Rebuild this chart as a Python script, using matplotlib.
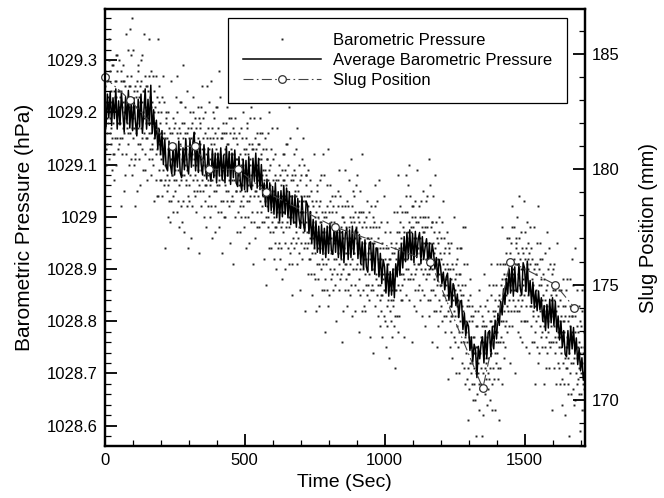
import numpy as np
import matplotlib.pyplot as plt
from matplotlib.ticker import MultipleLocator, FuncFormatter

plt.rcParams["font.family"] = ["Liberation Sans", "DejaVu Sans"]

# barometer readings, one per second from t = 0, coded as 0.01 hPa above 1028.50
raw_blocks = [
    "70 75 67 78 63 72 60 76 69 66 64 73 77 68 70 80 61 84 66 72 78 69 64 74 67 59 72 79 65 62 79 68 74 62 71 57 76 65 73 81 73 60 76 70 65 78 81 68 63 74",
    "71 64 80 74 68 73 65 52 78 76 74 65 71 62 79 72 67 76 55 70 76 66 58 72 75 69 70 85 62 67 68 77 73 64 82 66 71 60 75 86 75 72 66 81 61 70 77 67 58 88",
    "65 71 69 82 60 74 67 62 75 52 61 73 71 66 76 55 74 68 79 64 78 67 73 61 70 56 75 64 72 80 67 76 72 63 81 65 70 59 74 85 69 74 66 77 62 71 59 75 68 65",
    "75 65 57 71 74 68 69 84 61 66 77 68 63 73 66 58 71 78 64 61 72 63 69 60 77 70 65 74 53 68 71 68 62 77 57 66 73 63 54 84 67 54 70 64 59 72 75 62 57 68",
    "57 66 70 61 63 73 54 77 59 65 63 56 72 66 60 65 57 44 70 68 69 60 55 65 58 50 63 70 56 53 67 57 49 63 66 60 61 76 53 58 61 66 58 69 54 63 51 67 60 57",
    "59 68 64 55 73 57 62 51 66 77 70 59 65 53 62 48 67 56 64 72 66 63 57 72 52 61 68 58 49 79 53 65 63 58 68 47 66 60 71 56 57 63 61 74 52 66 59 54 67 44",
    "65 56 62 53 70 63 58 67 46 61 65 52 68 62 57 70 73 60 55 66 61 66 58 69 54 63 51 67 60 57 62 55 71 65 59 64 56 43 69 67 55 64 68 59 61 71 52 75 57 63",
    "69 60 55 65 58 50 63 70 56 53 66 56 48 62 65 59 60 75 52 57 58 67 63 54 72 56 61 50 65 76 52 64 62 57 67 46 65 59 70 55 69 58 64 52 61 47 66 55 63 71",
    "65 62 56 71 51 60 67 57 48 78 56 62 60 73 51 65 58 53 66 43 60 65 57 68 53 62 50 66 59 56 63 50 66 60 55 68 71 58 53 64 64 55 61 52 69 62 57 66 45 60",
    "60 53 69 63 57 62 54 41 67 65 53 62 66 57 59 69 50 73 55 61 65 55 47 61 64 58 59 74 51 56 66 57 52 62 55 47 60 67 53 50 56 65 61 52 70 54 59 48 63 74",
    "50 62 60 55 65 44 63 57 68 53 67 56 62 50 59 45 64 53 61 69 54 60 58 71 49 63 56 51 64 41 63 60 54 69 49 58 65 55 46 76 58 63 55 66 51 60 48 64 57 54",
    "61 48 64 58 53 66 69 56 51 62 61 52 58 49 66 59 54 63 42 57 56 49 65 59 53 58 50 37 63 61 52 61 57 48 66 50 55 44 59 70 47 56 60 51 53 63 44 67 49 55",
    "61 52 47 57 50 42 55 62 48 45 58 48 40 54 57 51 52 67 44 49 52 57 49 60 45 54 42 58 51 48 44 56 54 49 59 38 57 51 62 47 62 51 57 45 54 40 59 48 56 64",
    "58 55 49 64 44 53 60 50 41 71 48 54 52 65 43 57 50 45 58 35 54 41 57 51 46 59 62 49 44 55 49 58 54 45 63 47 52 41 56 67 55 46 52 43 60 53 48 57 36 51",
    "45 54 58 49 51 61 42 65 47 53 51 44 60 54 48 53 45 32 58 56 58 49 44 54 47 39 52 59 45 42 49 54 46 57 42 51 39 55 48 45 53 43 35 49 52 46 47 62 39 44",
    "38 50 48 43 53 32 51 45 56 41 55 44 50 38 47 33 52 41 49 57 44 53 49 40 58 42 47 36 51 62 41 47 45 58 36 50 43 38 51 28 50 47 41 56 36 45 52 42 33 63",
    "48 35 51 45 40 53 56 43 38 49 46 51 43 54 39 48 36 52 45 42 49 40 46 37 54 47 42 51 30 45 39 48 52 43 45 55 36 59 41 47 45 38 54 48 42 47 39 26 52 50",
    "50 40 32 46 49 43 44 59 36 41 52 43 38 48 41 33 46 53 39 36 43 52 48 39 57 41 46 35 50 61 37 49 47 42 52 31 50 44 55 40 54 43 49 37 46 32 51 40 48 56",
    "41 47 45 58 36 50 43 38 51 28 49 46 40 55 35 44 51 41 32 62 43 48 40 51 36 45 33 49 42 39 45 32 48 42 37 50 53 40 35 46 46 37 43 34 51 44 39 48 27 42",
    "43 36 52 46 40 45 37 24 50 48 36 45 49 40 42 52 33 56 38 44 39 48 44 35 53 37 42 31 46 57 48 39 34 44 37 29 42 49 35 32 45 35 27 41 44 38 39 54 31 36",
    "47 36 42 30 39 25 44 33 41 49 29 41 39 34 44 23 42 36 47 32 37 42 34 45 30 39 27 43 36 33 34 40 38 51 29 43 36 31 44 21 45 42 36 51 31 40 47 37 28 58",
    "44 31 47 41 36 49 52 39 34 45 46 37 43 34 51 44 39 48 27 42 38 47 51 42 44 54 35 58 40 46 42 51 47 38 56 40 45 34 49 60 45 38 54 48 42 47 39 26 52 50",
    "52 43 38 48 41 33 46 53 39 36 50 40 32 46 49 43 44 59 36 41 44 49 41 52 37 46 34 50 43 40 53 42 48 36 45 31 50 39 47 55 35 47 45 40 50 29 48 42 53 38",
    "48 45 39 54 34 43 50 40 31 61 39 45 43 56 34 48 41 36 49 26 40 49 45 36 54 38 43 32 47 58 44 35 41 32 49 42 37 46 25 40 42 29 45 39 34 47 50 37 32 43",
    "33 42 46 37 39 49 30 53 35 41 38 43 35 46 31 40 28 44 37 34 38 31 47 41 35 40 32 19 45 43 44 35 30 40 33 25 38 45 31 28 41 31 23 37 40 34 35 50 27 32",
    "26 38 36 31 41 20 39 33 44 29 42 31 37 25 34 20 39 28 36 44 30 39 35 26 44 28 33 22 37 48 35 32 26 41 21 30 37 27 18 48 24 30 28 41 19 33 26 21 34 11",
    "30 17 33 27 22 35 38 25 20 31 25 30 22 33 18 27 15 31 24 21 27 18 24 15 32 25 20 29 8 23 16 25 29 20 22 32 13 36 18 24 24 17 33 27 21 26 18 8 31 29",
    "30 20 12 26 29 23 24 39 16 21 33 24 19 29 22 14 27 34 20 17 23 32 28 19 37 21 26 15 30 41 35 24 30 18 27 13 32 21 29 37 19 31 29 24 34 13 32 26 37 22",
    "24 30 28 41 19 33 26 21 34 11 35 32 26 41 21 30 37 27 18 48 33 38 30 41 26 35 23 39 32 29 38 25 41 35 30 43 46 33 28 39 41 32 38 29 46 39 34 43 22 37",
    "32 41 45 36 38 48 29 52 34 40 39 32 48 42 36 41 33 20 46 44 36 45 41 32 50 34 39 28 43 54 46 37 32 42 35 27 40 47 33 30 44 34 26 40 43 37 38 53 30 35",
    "47 36 42 30 39 25 44 33 41 49 30 42 40 35 45 24 43 37 48 33 36 41 33 44 29 38 26 42 35 32 31 37 35 48 26 40 33 28 41 18 39 36 30 45 25 34 41 31 22 52",
    "37 24 40 34 29 42 45 32 27 38 37 28 34 25 42 35 30 39 18 33 29 38 34 25 43 27 32 21 36 47 24 33 37 28 30 40 21 44 26 32 32 25 41 35 29 34 26 13 39 37",
    "40 31 26 36 29 21 34 41 27 24 36 26 18 32 35 29 30 45 22 27 28 33 25 36 21 30 18 34 27 24 36 25 31 19 28 14 33 22 30 38 18 30 28 23 33 12 31 25 36 21",
    "21 27 25 38 16 30 23 18 31 8 24 33 29 20 38 22 27 16 31 42 31 28 22 37 17 26 33 23 14 44 28 15 31 25 20 33 36 23 18 29 28 19 25 16 33 26 21 30 9 24",
    "16 25 29 20 22 32 13 36 18 24 20 25 17 28 13 22",
]

# running average, one value every 5 s, coded as 0.001 hPa above 1028.500
avg_codes = [
    700, 672, 735, 690, 740, 675, 728, 688, 745, 668, 722, 676, 738, 700, 662,
    730, 680, 742, 670, 718, 665, 728, 682, 655, 725, 672, 735, 660, 700, 745,
    668, 725, 675, 752, 660, 705, 650, 685, 630, 668, 620, 665, 600, 648, 595,
    588, 645, 600, 582, 640, 580, 635, 595, 645, 585, 575, 632, 590, 650, 598,
    582, 648, 595, 640, 662, 588, 640, 585, 645, 600, 580, 638, 592, 572, 632,
    585, 568, 630, 575, 622, 565, 622, 578, 632, 570, 618, 565, 635, 578, 625,
    562, 622, 575, 628, 565, 558, 615, 565, 550, 610, 552, 608, 548, 615, 560,
    552, 612, 568, 622, 555, 612, 552, 600, 540, 565, 520, 572, 510, 565, 512,
    558, 505, 565, 498, 548, 492, 550, 500, 560, 505, 555, 498, 548, 485, 540,
    488, 542, 480, 535, 495, 478, 538, 488, 472, 530, 522, 468, 510, 450, 495,
    440, 492, 432, 482, 430, 485, 428, 478, 422, 482, 430, 488, 435, 428, 483,
    432, 486, 422, 475, 420, 472, 412, 468, 478, 418, 475, 422, 482, 428, 472,
    478, 420, 466, 410, 452, 400, 456, 404, 394, 450, 452, 397, 448, 390, 440,
    438, 385, 430, 372, 418, 404, 354, 408, 348, 395, 350, 400, 345, 410, 385,
    435, 388, 448, 402, 462, 414, 470, 420, 475, 418, 468, 412, 472, 422, 456,
    470, 410, 462, 418, 442, 458, 407, 450, 400, 448, 432, 400, 422, 377, 418,
    405, 372, 394, 360, 384, 392, 340, 382, 327, 372, 360, 330, 352, 307, 338,
    340, 284, 316, 272, 298, 290, 244, 270, 222, 256, 245, 192, 252, 228, 258,
    270, 220, 282, 228, 278, 282, 232, 290, 247, 302, 266, 315, 292, 338, 312,
    362, 332, 382, 352, 400, 354, 408, 348, 404, 358, 356, 410, 362, 350, 412,
    402, 357, 415, 350, 378, 334, 375, 325, 358, 320, 358, 322, 345, 300, 330,
    282, 332, 287, 342, 297, 345, 292, 338, 280, 310, 264, 300, 250, 282, 237,
    232, 282, 237, 290, 247, 288, 237, 268, 217, 248, 205, 230, 187, 205,
]

slug_time = [0, 91, 239, 322, 374, 477, 578, 822, 1164, 1351, 1449, 1610, 1678]
slug_mm = [184.0, 183.0, 181.0, 181.0, 180.0, 180.0, 179.0, 177.5, 176.0,
           170.5, 176.0, 175.0, 174.0]

raw_p = 1028.5 + np.array(" ".join(raw_blocks).split(), dtype=float) / 100
raw_t = np.arange(len(raw_p))
avg_p = 1028.5 + np.array(avg_codes) / 1000
avg_t = np.arange(len(avg_p)) * 5

fig = plt.figure(figsize=(6.64, 4.98), dpi=100)
ax = fig.add_axes([104.6 / 664, 1 - 446 / 498, 480.4 / 664, 437 / 498])
ax2 = ax.twinx()

ax.plot(raw_t, raw_p, ls="none", marker="s", ms=1.4, mew=0, color="#222222",
        label="Barometric Pressure")
ax.plot(avg_t, avg_p, color="black", lw=1.1, label="Average Barometric Pressure")
ax2.plot(slug_time, slug_mm, color="#444444", lw=0.8, ls=(0, (9, 3, 1.5, 3)),
         marker="o", ms=5.5, mfc="white", mec="#333333", mew=0.9, clip_on=False,
         label="Slug Position")

ax.set_xlim(0, 1716)
ax.set_ylim(1028.561, 1029.398)
ax2.set_ylim(168.0, 186.95)

ax.xaxis.set_major_locator(MultipleLocator(500))
ax.xaxis.set_minor_locator(MultipleLocator(100))
ax.yaxis.set_major_locator(MultipleLocator(0.1))
ax.yaxis.set_minor_locator(MultipleLocator(0.02))
ax.yaxis.set_major_formatter(FuncFormatter(lambda v, p: f"{v:g}"))
ax2.yaxis.set_major_locator(MultipleLocator(5))
ax2.yaxis.set_minor_locator(MultipleLocator(1))

for a in (ax, ax2):
    a.tick_params(which="both", direction="in", labelsize=12, pad=5)
    a.tick_params(which="major", length=8.5, width=1.3)
    a.tick_params(which="minor", length=4.5, width=0.9)
    for s in a.spines.values():
        s.set_linewidth(1.6)
ax.tick_params(which="both", top=False, right=False)
ax2.tick_params(which="both", left=False)

ax.set_xlabel("Time (Sec)", fontsize=14)
ax.set_ylabel("Barometric Pressure (hPa)", fontsize=15, labelpad=9)
ax2.set_ylabel("Slug Position (mm)", fontsize=14.5, labelpad=14)

h1, l1 = ax.get_legend_handles_labels()
h2, l2 = ax2.get_legend_handles_labels()
leg = ax2.legend(h1 + h2, l1 + l2, loc="upper right", bbox_to_anchor=(0.9625, 0.979),
                 borderaxespad=0, fontsize=12, handlelength=4.7, numpoints=1,
                 fancybox=False, framealpha=1, edgecolor="black", labelspacing=0.3,
                 borderpad=0.9, handletextpad=0.7)
leg.get_frame().set_linewidth(0.9)

fig.savefig("out.png", dpi=100)
